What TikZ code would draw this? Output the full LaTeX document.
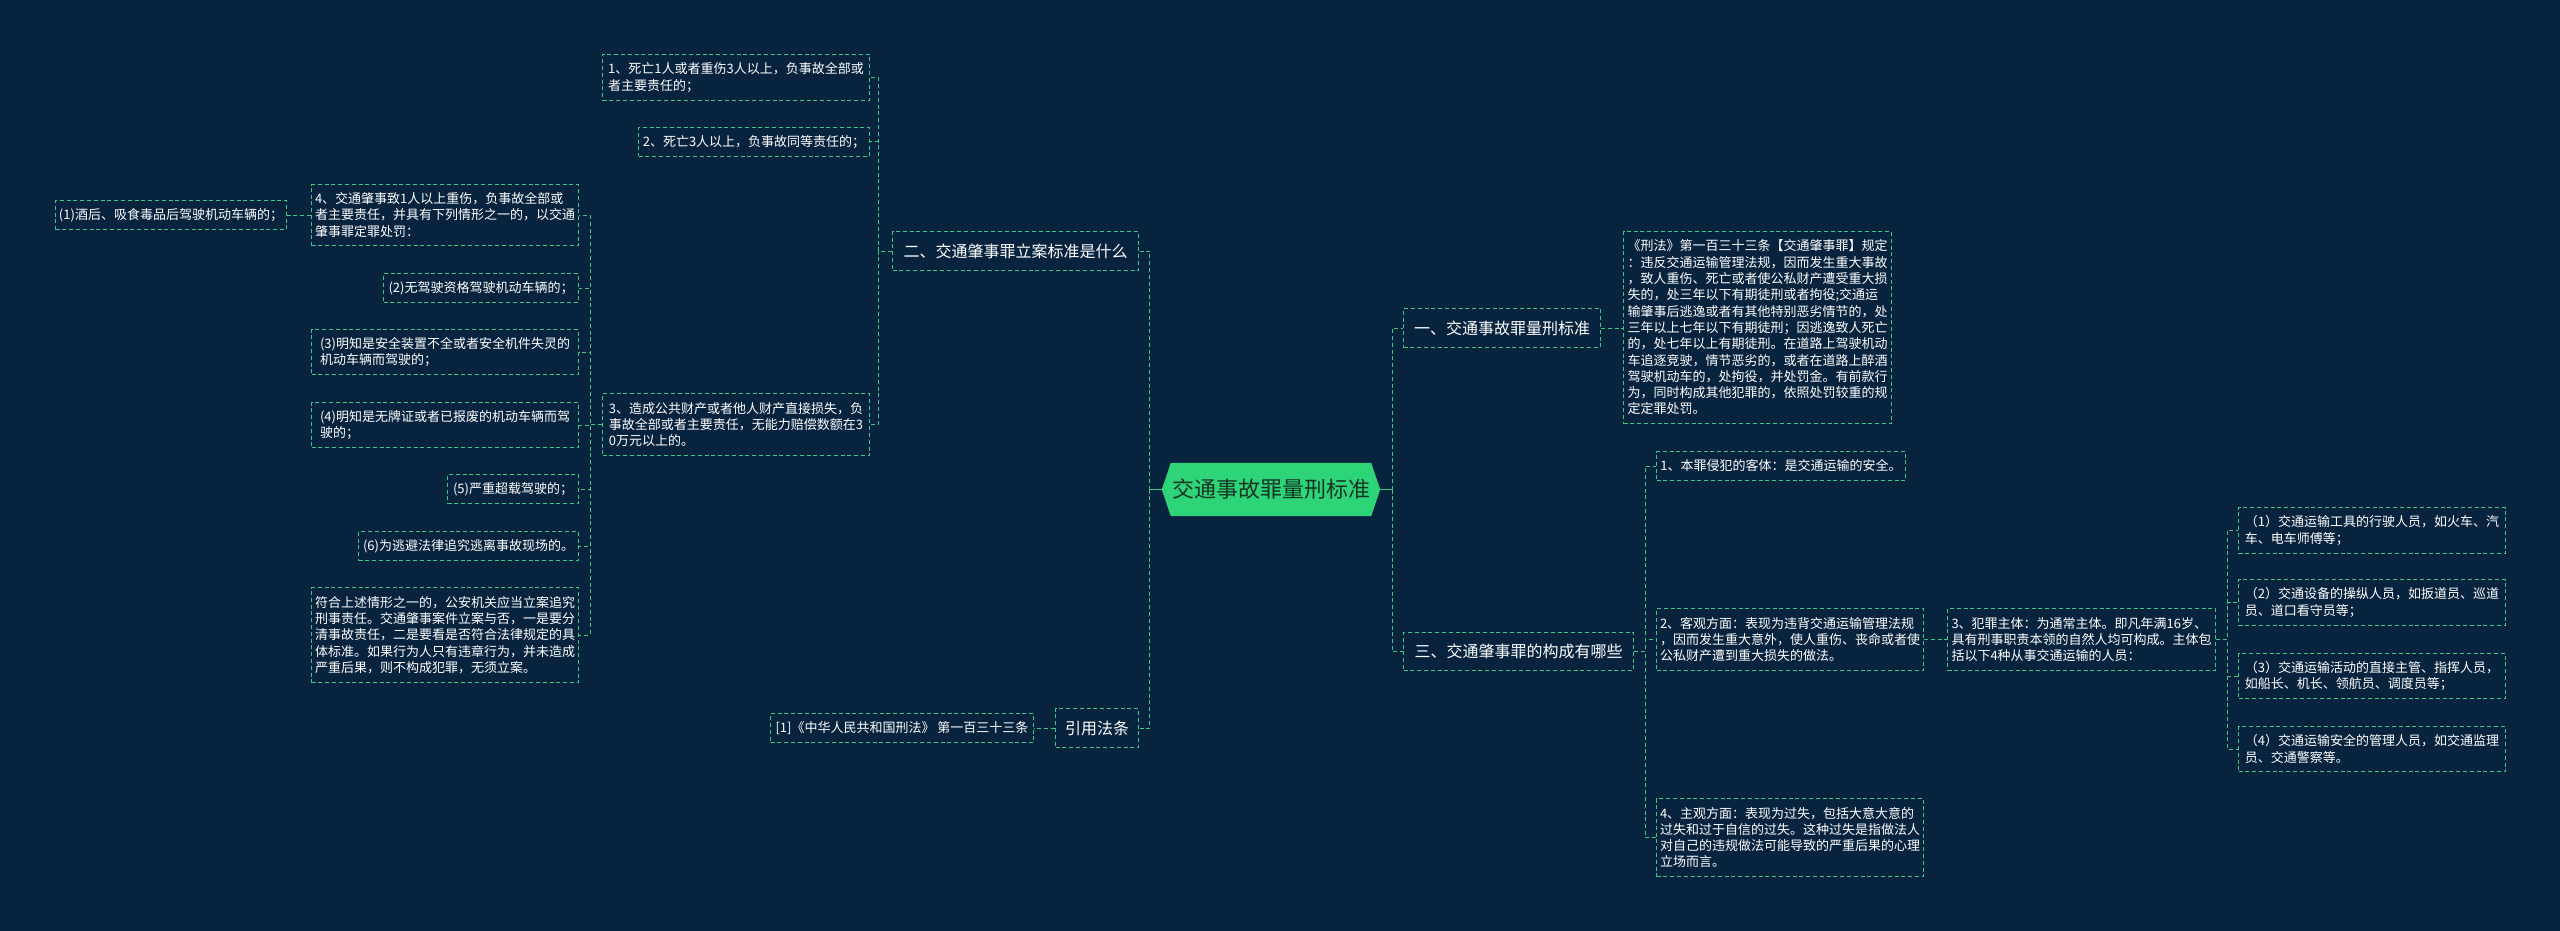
\documentclass[tikz,border=0pt]{standalone}
\usepackage{fontspec}
\newfontfamily\cjk{Noto Sans CJK SC}
\usetikzlibrary{backgrounds}
\definecolor{bgc}{RGB}{8,35,62}
\definecolor{lnc}{RGB}{62,200,128}
\definecolor{rootc}{RGB}{46,212,120}
\definecolor{roott}{RGB}{22,52,36}
\tikzset{
  box/.style={draw=lnc, line width=1pt, dash pattern=on 4pt off 2.8pt, text=white,
    inner sep=0pt, align=left, anchor=north west,
    font=\cjk\fontsize{13}{16.3}\selectfont},
  lvone/.style={box, font=\cjk\fontsize{16}{19}\selectfont},
  wh/.style 2 args={minimum width=#1, minimum height=#2},
  conn/.style={draw=lnc, line width=1pt, dash pattern=on 4pt off 2.8pt},
  stem/.style={draw=lnc, line width=1.8pt}
}
\begin{document}
\begin{tikzpicture}[x=1pt,y=-1pt]
\useasboundingbox (0,0) rectangle (2560,931);
% root
\node[font=\cjk\fontsize{22}{26}\selectfont, text=roott, inner sep=0pt, wh={218}{53}] (root) at (1271,489.5) {交通事故罪量刑标准};
\begin{scope}[on background layer]
\fill[bgc] (0,0) rectangle (2560,931);
\fill[rootc] (root.west) -- ([xshift=9pt]root.north west) -- ([xshift=-9pt]root.north east) -- (root.east) -- ([xshift=-9pt]root.south east) -- ([xshift=9pt]root.south west) -- cycle;
\end{scope}
% level 1
\node[lvone, wh={246}{39}] (n2) at (892,231) {二、交通肇事罪立案标准是什么};
\node[lvone, wh={83}{39}] (ncite) at (1055,708) {引用法条};
\node[lvone, wh={197}{39}] (n1) at (1403,308) {一、交通事故罪量刑标准};
\node[lvone, wh={230}{38}] (n3) at (1403,632) {三、交通肇事罪的构成有哪些};
% left branch
\node[box, wh={267}{46}] (a1) at (602,54) {1、死亡1人或者重伤3人以上，负事故全部或\\者主要责任的；};
\node[box, wh={231}{29}] (a2) at (638,127) {2、死亡3人以上，负事故同等责任的；};
\node[box, wh={267}{62}] (a3) at (602,393) {3、造成公共财产或者他人财产直接损失，负\\事故全部或者主要责任，无能力赔偿数额在3\\0万元以上的。};
\node[box, wh={267}{61}] (b1) at (311,184) {4、交通肇事致1人以上重伤，负事故全部或\\者主要责任，并具有下列情形之一的，以交通\\肇事罪定罪处罚：};
\node[box, wh={195}{29}] (b2) at (383,273) {(2)无驾驶资格驾驶机动车辆的；};
\node[box, wh={267}{45}] (b3) at (311,329) {(3)明知是安全装置不全或者安全机件失灵的\\机动车辆而驾驶的；};
\node[box, wh={267}{45}] (b4) at (311,402) {(4)明知是无牌证或者已报废的机动车辆而驾\\驶的；};
\node[box, wh={131}{29}] (b5) at (447,474) {(5)严重超载驾驶的；};
\node[box, wh={220}{29}] (b6) at (358,531) {(6)为逃避法律追究逃离事故现场的。};
\node[box, wh={267}{95}] (b7) at (311,587) {符合上述情形之一的，公安机关应当立案追究\\刑事责任。交通肇事案件立案与否，一是要分\\清事故责任，二是要看是否符合法律规定的具\\体标准。如果行为人只有违章行为，并未造成\\严重后果，则不构成犯罪，无须立案。};
\node[box, wh={231}{29}] (c1) at (55,200) {(1)酒后、吸食毒品后驾驶机动车辆的；};
\node[box, wh={263}{29}] (cite1) at (770,713) {[1]《中华人民共和国刑法》 第一百三十三条};
% right branch
\node[box, wh={268}{192}] (r1) at (1623,231) {《刑法》第一百三十三条【交通肇事罪】规定\\：违反交通运输管理法规，因而发生重大事故\\，致人重伤、死亡或者使公私财产遭受重大损\\失的，处三年以下有期徒刑或者拘役;交通运\\输肇事后逃逸或者有其他特别恶劣情节的，处\\三年以上七年以下有期徒刑；因逃逸致人死亡\\的，处七年以上有期徒刑。在道路上驾驶机动\\车追逐竞驶，情节恶劣的，或者在道路上醉酒\\驾驶机动车的，处拘役，并处罚金。有前款行\\为，同时构成其他犯罪的，依照处罚较重的规\\定定罪处罚。};
\node[box, wh={249}{29}] (s1) at (1656,451) {1、本罪侵犯的客体：是交通运输的安全。};
\node[box, wh={267}{62}] (s2) at (1656,608) {2、客观方面：表现为违背交通运输管理法规\\，因而发生重大意外，使人重伤、丧命或者使\\公私财产遭到重大损失的做法。};
\node[box, wh={267}{78}] (s4) at (1656,798) {4、主观方面：表现为过失，包括大意大意的\\过失和过于自信的过失。这种过失是指做法人\\对自己的违规做法可能导致的严重后果的心理\\立场而言。};
\node[box, wh={268}{62}] (s3) at (1947,608) {3、犯罪主体：为通常主体。即凡年满16岁、\\具有刑事职责本领的自然人均可构成。主体包\\括以下4种从事交通运输的人员：};
\node[box, wh={267}{46}] (t1) at (2238,507) {（1）交通运输工具的行驶人员，如火车、汽\\车、电车师傅等；};
\node[box, wh={267}{46}] (t2) at (2238,579) {（2）交通设备的操纵人员，如扳道员、巡道\\员、道口看守员等；};
\node[box, wh={267}{45}] (t3) at (2238,653) {（3）交通运输活动的直接主管、指挥人员，\\如船长、机长、领航员、调度员等；};
\node[box, wh={267}{45}] (t4) at (2238,726) {（4）交通运输安全的管理人员，如交通监理\\员、交通警察等。};
% connectors from root
\draw[stem] (root.west) -- ++(-12,0) coordinate (lt);
\draw[stem] (root.east) -- ++(12,0) coordinate (rt);
\draw[conn] (lt) |- (n2.east);
\draw[conn] (lt) |- (ncite.east);
\draw[conn] (rt) |- (n1.west);
\draw[conn] (rt) |- (n3.west);
% left
\foreach \c in {a1,a2,a3} \draw[conn] (n2.west) -- ++(-14,0) |- (\c.east);
\foreach \c in {b1,b2,b3,b4,b5,b6,b7} \draw[conn] (a3.west) -- ++(-12,0) |- (\c.east);
\draw[conn] (b1.west) -- (c1.east);
\draw[conn] (ncite.west) -- (cite1.east);
% right
\draw[conn] (n1.east) -- (r1.west |- n1.east);
\foreach \c in {s1,s2,s4} \draw[conn] (n3.east) -- ++(11,0) |- (\c.west);
\draw[conn] (s2.east) -- (s3.west);
\foreach \c in {t1,t2,t3,t4} \draw[conn] (s3.east) -- ++(11,0) |- (\c.west);
\end{tikzpicture}
\end{document}
